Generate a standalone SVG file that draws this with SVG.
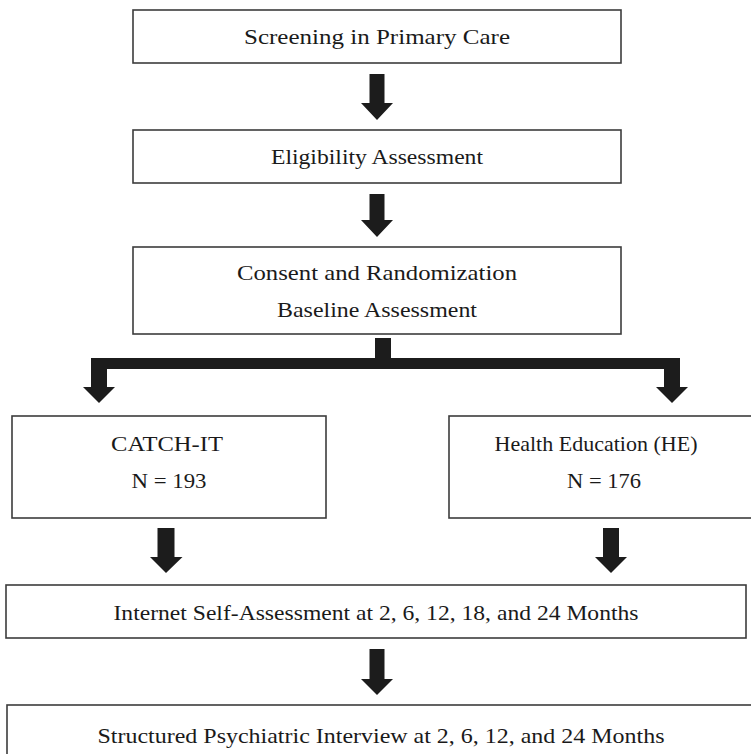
<svg xmlns="http://www.w3.org/2000/svg" width="751" height="754" viewBox="0 0 751 754">
<style>
.box{fill:#fff;stroke:#3c3c3c;stroke-width:1.6}
.t{font-family:"Liberation Serif","Times New Roman",serif;font-size:22px;fill:#1a1a1a;text-anchor:middle}
.arr{fill:#1c1c1c;stroke:none}
</style>
<rect width="751" height="754" fill="#fff"/>
<g id="connectors">
<polygon class="arr" points="369.5,74 384.5,74 384.5,103 393,103 377,120 361,103 369.5,103"/>
<polygon class="arr" points="369.5,194 384.5,194 384.5,220 393,220 377,237 361,220 369.5,220"/>
<polygon class="arr" points="375,338 391,338 391,358 680,358 680,387 688,387 672,403 656,387 664,387 664,369 107,369 107,387 115,387 99,403 83,387 91,387 91,358 375,358"/>
<polygon class="arr" points="157.5,528 174.5,528 174.5,557 182.5,557 166,573 150,557 157.5,557"/>
<polygon class="arr" points="603,528 619,528 619,557 627,557 611,573 595,557 603,557"/>
<polygon class="arr" points="369.5,649 384.5,649 384.5,679 393,679 377,695 361,679 369.5,679"/>
</g>
<g id="screening">
<rect class="box" x="133" y="10" width="488" height="53"/>
<text class="t" x="377" y="44" textLength="266" lengthAdjust="spacingAndGlyphs">Screening in Primary Care</text>
</g>
<g id="eligibility">
<rect class="box" x="133" y="130" width="488" height="53"/>
<text class="t" x="377" y="164" textLength="212" lengthAdjust="spacingAndGlyphs">Eligibility Assessment</text>
</g>
<g id="consent">
<rect class="box" x="133" y="247" width="488" height="87"/>
<text class="t" x="377" y="280" textLength="280" lengthAdjust="spacingAndGlyphs">Consent and Randomization</text>
<text class="t" x="377" y="317" textLength="200" lengthAdjust="spacingAndGlyphs">Baseline Assessment</text>
</g>
<g id="catchit">
<rect class="box" x="12" y="416" width="314" height="102"/>
<text class="t" x="167" y="451" textLength="112" lengthAdjust="spacingAndGlyphs">CATCH-IT</text>
<text class="t" x="169" y="488" textLength="75" lengthAdjust="spacingAndGlyphs">N = 193</text>
</g>
<g id="he">
<rect class="box" x="449" y="416" width="330" height="102"/>
<text class="t" x="596" y="451" textLength="203" lengthAdjust="spacingAndGlyphs">Health Education (HE)</text>
<text class="t" x="604" y="488" textLength="74" lengthAdjust="spacingAndGlyphs">N = 176</text>
</g>
<g id="internet">
<rect class="box" x="6" y="585" width="740" height="53"/>
<text class="t" x="376" y="620" textLength="525" lengthAdjust="spacingAndGlyphs">Internet Self-Assessment at 2, 6, 12, 18, and 24 Months</text>
</g>
<g id="interview">
<rect class="box" x="7" y="705" width="760" height="70"/>
<text class="t" x="381" y="743" textLength="567" lengthAdjust="spacingAndGlyphs">Structured Psychiatric Interview at 2, 6, 12, and 24 Months</text>
</g>
</svg>
